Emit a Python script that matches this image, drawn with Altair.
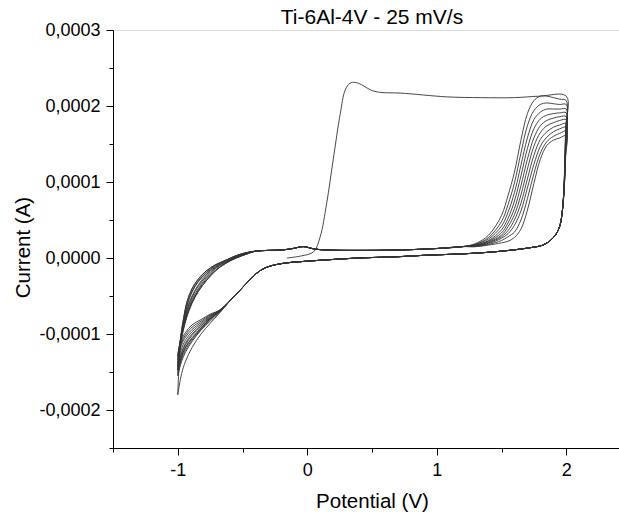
import altair as alt
import pandas as pd

TITLE = "Ti-6Al-4V - 25 mV/s"
X_TITLE = "Potential (V)"
Y_TITLE = "Current (A)"
X_TICKS = [-1.5, -1.0, -0.5, 0.0, 0.5, 1.0, 1.5, 2.0, 2.5]
Y_TICKS = [-2.5e-4, -2.0e-4, -1.5e-4, -1.0e-4, -0.5e-4, 0.0, 0.5e-4, 1.0e-4, 1.5e-4, 2.0e-4, 2.5e-4, 3.0e-4]

# ---------------- cycle 1: first anodic scan from open-circuit potential ----------------
C1_FWD_E = [-0.157, -0.05, 0.05, 0.10, 0.15, 0.20, 0.255, 0.293, 0.33, 0.37, 0.42, 0.49, 0.56, 0.72,
            1.08, 1.34, 1.60, 1.80, 2.00]
C1_FWD_I = [0.0, 0.026e-4, 0.083e-4, 0.28e-4, 0.72e-4, 1.29e-4, 1.90e-4, 2.21e-4, 2.30e-4, 2.31e-4,
            2.28e-4, 2.21e-4, 2.18e-4, 2.17e-4, 2.12e-4, 2.11e-4, 2.11e-4, 2.13e-4, 2.13e-4]

# ---------------- forward scans of cycles 2..11 ----------------
FWD_HEAD_E = [-1.0, -0.99, -0.975, -0.955, -0.93, -0.89, -0.84, -0.78, -0.71, -0.63, -0.55, -0.47]
FWD_HEAD_I = [
    [-1.80e-4, -1.42e-4, -1.10e-4, -0.86e-4, -0.64e-4, -0.44e-4, -0.30e-4, -0.19e-4, -0.10e-4, -0.03e-4, 0.03e-4, 0.07e-4],
    [-1.55e-4, -1.28e-4, -1.02e-4, -0.80e-4, -0.59e-4, -0.41e-4, -0.28e-4, -0.17e-4, -0.09e-4, -0.03e-4, 0.03e-4, 0.07e-4],
    [-1.48e-4, -1.24e-4, -1.00e-4, -0.79e-4, -0.58e-4, -0.40e-4, -0.27e-4, -0.17e-4, -0.09e-4, -0.03e-4, 0.03e-4, 0.07e-4],
    [-1.42e-4, -1.22e-4, -1.02e-4, -0.83e-4, -0.63e-4, -0.45e-4, -0.31e-4, -0.20e-4, -0.11e-4, -0.04e-4, 0.02e-4, 0.07e-4],
    [-1.38e-4, -1.21e-4, -1.04e-4, -0.87e-4, -0.68e-4, -0.50e-4, -0.35e-4, -0.22e-4, -0.12e-4, -0.05e-4, 0.02e-4, 0.06e-4],
    [-1.47e-4, -1.27e-4, -1.07e-4, -0.89e-4, -0.70e-4, -0.52e-4, -0.37e-4, -0.24e-4, -0.13e-4, -0.05e-4, 0.01e-4, 0.06e-4],
    [-1.34e-4, -1.20e-4, -1.05e-4, -0.90e-4, -0.73e-4, -0.55e-4, -0.40e-4, -0.26e-4, -0.14e-4, -0.06e-4, 0.01e-4, 0.06e-4],
    [-1.30e-4, -1.18e-4, -1.05e-4, -0.91e-4, -0.75e-4, -0.58e-4, -0.42e-4, -0.28e-4, -0.16e-4, -0.07e-4, 0.00e-4, 0.05e-4],
    [-1.28e-4, -1.17e-4, -1.05e-4, -0.92e-4, -0.76e-4, -0.58e-4, -0.43e-4, -0.30e-4, -0.17e-4, -0.07e-4, 0.00e-4, 0.05e-4],
    [-1.44e-4, -1.27e-4, -1.10e-4, -0.94e-4, -0.78e-4, -0.60e-4, -0.44e-4, -0.30e-4, -0.17e-4, -0.07e-4, 0.00e-4, 0.05e-4],
]
FWD_MID_E = [-0.40, -0.30, -0.20, -0.11, -0.03, 0.05, 0.15, 0.40, 0.70, 1.00, 1.20]
FWD_MID_I = [0.09e-4, 0.10e-4, 0.105e-4, 0.125e-4, 0.15e-4, 0.12e-4, 0.105e-4, 0.10e-4, 0.105e-4, 0.125e-4, 0.15e-4]
FWD_RISE_E = [1.30, 1.40, 1.50, 1.55, 1.60, 1.65, 1.70, 1.75, 1.80, 1.85, 1.90, 1.95, 2.00]
FWD_RISE_I = [
    [0.19e-4, 0.30e-4, 0.56e-4, 0.82e-4, 1.13e-4, 1.55e-4, 1.90e-4, 2.07e-4, 2.13e-4, 2.13e-4, 2.11e-4, 2.09e-4, 2.07e-4],
    [0.18e-4, 0.27e-4, 0.48e-4, 0.70e-4, 0.99e-4, 1.38e-4, 1.74e-4, 1.94e-4, 2.02e-4, 2.04e-4, 2.03e-4, 2.02e-4, 2.02e-4],
    [0.18e-4, 0.25e-4, 0.42e-4, 0.60e-4, 0.86e-4, 1.22e-4, 1.58e-4, 1.82e-4, 1.92e-4, 1.96e-4, 1.96e-4, 1.96e-4, 1.96e-4],
    [0.17e-4, 0.23e-4, 0.37e-4, 0.52e-4, 0.75e-4, 1.08e-4, 1.44e-4, 1.70e-4, 1.83e-4, 1.88e-4, 1.90e-4, 1.91e-4, 1.91e-4],
    [0.17e-4, 0.22e-4, 0.33e-4, 0.46e-4, 0.65e-4, 0.95e-4, 1.30e-4, 1.58e-4, 1.74e-4, 1.81e-4, 1.84e-4, 1.86e-4, 1.86e-4],
    [0.16e-4, 0.21e-4, 0.30e-4, 0.41e-4, 0.57e-4, 0.83e-4, 1.17e-4, 1.47e-4, 1.65e-4, 1.74e-4, 1.78e-4, 1.81e-4, 1.82e-4],
    [0.16e-4, 0.20e-4, 0.28e-4, 0.36e-4, 0.50e-4, 0.72e-4, 1.04e-4, 1.35e-4, 1.56e-4, 1.66e-4, 1.72e-4, 1.75e-4, 1.77e-4],
    [0.16e-4, 0.19e-4, 0.26e-4, 0.32e-4, 0.43e-4, 0.62e-4, 0.92e-4, 1.23e-4, 1.47e-4, 1.59e-4, 1.66e-4, 1.70e-4, 1.72e-4],
    [0.15e-4, 0.18e-4, 0.23e-4, 0.28e-4, 0.34e-4, 0.50e-4, 0.78e-4, 1.11e-4, 1.38e-4, 1.53e-4, 1.60e-4, 1.64e-4, 1.67e-4],
    [0.15e-4, 0.17e-4, 0.20e-4, 0.22e-4, 0.27e-4, 0.38e-4, 0.63e-4, 0.98e-4, 1.30e-4, 1.48e-4, 1.55e-4, 1.58e-4, 1.61e-4],
]

# ---------------- reverse scans of cycles 1..11 ----------------
REV_HEAD_E = [1.995, 1.985]
REV_HEAD_I = [
    [1.70e-4, 1.05e-4], [1.66e-4, 1.03e-4], [1.62e-4, 1.02e-4], [1.58e-4, 1.00e-4],
    [1.54e-4, 0.99e-4], [1.50e-4, 0.98e-4], [1.47e-4, 0.97e-4], [1.43e-4, 0.96e-4],
    [1.39e-4, 0.95e-4], [1.36e-4, 0.94e-4], [1.32e-4, 0.93e-4],
]
REV_MID_E = [1.97, 1.95, 1.92, 1.88, 1.82, 1.72, 1.50, 1.26, 0.90, 0.70, 0.40, 0.10, -0.05, -0.17,
             -0.30, -0.375, -0.45, -0.53, -0.60]
REV_MID_I = [0.62e-4, 0.42e-4, 0.31e-4, 0.235e-4, 0.17e-4, 0.135e-4, 0.09e-4, 0.06e-4, 0.035e-4, 0.017e-4,
             0.0, -0.03e-4, -0.048e-4, -0.066e-4, -0.114e-4, -0.18e-4, -0.30e-4, -0.443e-4, -0.57e-4]
REV_TAIL_E = [-0.68, -0.75, -0.82, -0.89, -0.94, -0.97, -1.0]
REV_TAIL_I = [
    [-0.73e-4, -0.86e-4, -1.00e-4, -1.18e-4, -1.36e-4, -1.52e-4, -1.80e-4],
    [-0.72e-4, -0.83e-4, -0.95e-4, -1.10e-4, -1.24e-4, -1.36e-4, -1.55e-4],
    [-0.71e-4, -0.80e-4, -0.93e-4, -1.06e-4, -1.18e-4, -1.30e-4, -1.48e-4],
    [-0.70e-4, -0.78e-4, -0.89e-4, -1.00e-4, -1.12e-4, -1.24e-4, -1.42e-4],
    [-0.70e-4, -0.77e-4, -0.87e-4, -0.97e-4, -1.08e-4, -1.19e-4, -1.38e-4],
    [-0.71e-4, -0.80e-4, -0.92e-4, -1.05e-4, -1.17e-4, -1.29e-4, -1.47e-4],
    [-0.69e-4, -0.76e-4, -0.85e-4, -0.94e-4, -1.04e-4, -1.14e-4, -1.34e-4],
    [-0.69e-4, -0.75e-4, -0.83e-4, -0.91e-4, -1.01e-4, -1.11e-4, -1.30e-4],
    [-0.69e-4, -0.74e-4, -0.81e-4, -0.88e-4, -0.98e-4, -1.08e-4, -1.28e-4],
    [-0.70e-4, -0.79e-4, -0.90e-4, -1.02e-4, -1.14e-4, -1.26e-4, -1.44e-4],
    [-0.71e-4, -0.81e-4, -0.94e-4, -1.08e-4, -1.21e-4, -1.33e-4, -1.52e-4],
]

# ---------------- assemble table ----------------
rows = []


def add(cycle, es, cur):
    for e, i in zip(es, cur):
        rows.append({"cycle": cycle, "seq": len(rows), "E": e, "I": i})


add(1, C1_FWD_E, C1_FWD_I)
add(1, REV_HEAD_E, REV_HEAD_I[0])
add(1, REV_MID_E, REV_MID_I)
add(1, REV_TAIL_E, REV_TAIL_I[0])
for k in range(10):
    c = k + 2
    add(c, FWD_HEAD_E, FWD_HEAD_I[k])
    add(c, FWD_MID_E, FWD_MID_I)
    add(c, FWD_RISE_E, FWD_RISE_I[k])
    add(c, REV_HEAD_E, REV_HEAD_I[k + 1])
    add(c, REV_MID_E, REV_MID_I)
    add(c, REV_TAIL_E, REV_TAIL_I[k + 1])

df = pd.DataFrame(rows)

FONT = "Liberation Sans"
MAJ_X = "abs(datum.value - round(datum.value)) < 0.001"
MAJ_Y = "abs(datum.value * 10000 - round(datum.value * 10000)) < 0.01"

x_axis = alt.Axis(
    values=X_TICKS,
    labelExpr=f"({MAJ_X}) ? ((datum.value < -0.001 ? '-' : '') + format(abs(datum.value), 'd')) : ''",
    tickSize={"condition": {"test": MAJ_X, "value": 7}, "value": 4},
    labelPadding=6,
    titlePadding=12,
    grid=False,
    labelFlush=False,
    labelOverlap=False,
    labelBound=False,
    domainColor="black",
    tickColor="black",
    labelColor="black",
    titleColor="black",
    labelFont=FONT,
    titleFont=FONT,
    labelFontSize=18,
    titleFontSize=20.5,
    titleFontWeight="normal",
)

y_axis = alt.Axis(
    values=Y_TICKS,
    labelExpr=f"({MAJ_Y}) ? ((datum.value < -1e-9 ? '-' : '') + replace(format(abs(datum.value), '.4f'), '.', ',')) : ''",
    tickSize={"condition": {"test": MAJ_Y, "value": 7}, "value": 4},
    labelPadding=6,
    titlePadding=5,
    titleY=217,
    grid=False,
    labelFlush=False,
    labelOverlap=False,
    labelBound=False,
    domainColor="black",
    tickColor="black",
    labelColor="black",
    titleColor="black",
    labelFont=FONT,
    titleFont=FONT,
    labelFontSize=18,
    titleFontSize=20.5,
    titleFontWeight="normal",
)

chart = (
    alt.Chart(df)
    .mark_line(interpolate="catmull-rom", color="#333333", strokeWidth=0.9)
    .encode(
        x=alt.X("E:Q", title=X_TITLE, scale=alt.Scale(domain=[-1.5, 2.5], nice=False, zero=False), axis=x_axis),
        y=alt.Y("I:Q", title=Y_TITLE, scale=alt.Scale(domain=[-2.5e-4, 3.0e-4], nice=False, zero=False), axis=y_axis),
        detail="cycle:N",
        order="seq:Q",
    )
    .properties(
        width=518,
        height=418,
        title=alt.TitleParams(TITLE, font=FONT, fontSize=21, fontWeight="normal", color="black",
                              anchor="middle", offset=0, dy=7),
        autosize=alt.AutoSizeParams(type="none"),
        padding={"left": 113, "top": 30, "right": -12, "bottom": 68},
    )
    .configure_view(stroke="black", strokeWidth=1)
    .configure(background="white")
)

chart.save("out.html", embed_options={"renderer": "svg", "actions": False})
